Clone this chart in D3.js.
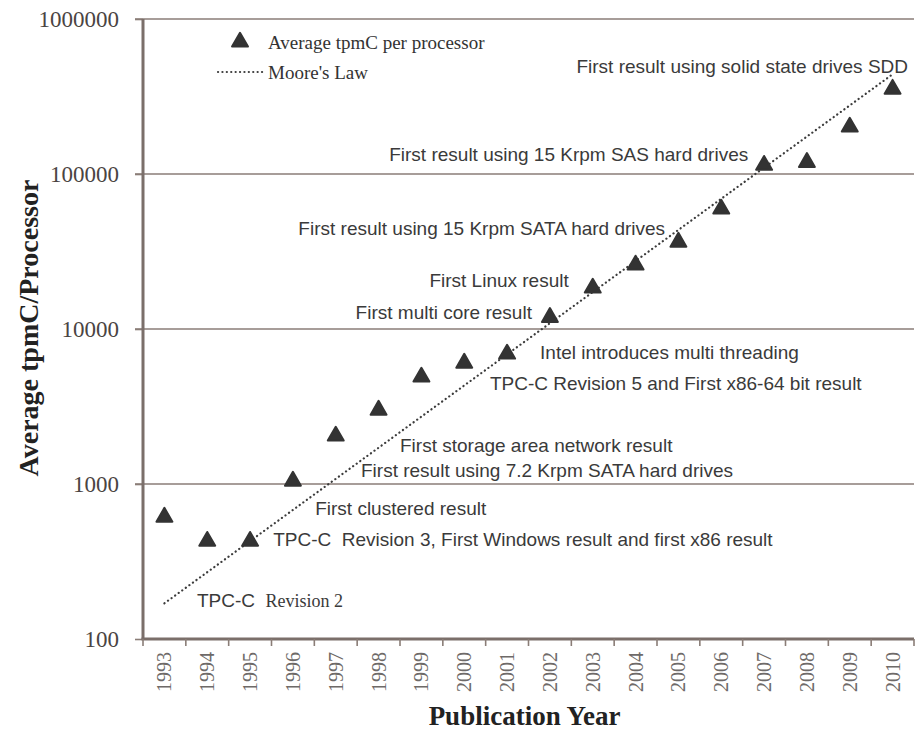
<!DOCTYPE html>
<html>
<head>
<meta charset="utf-8">
<script src="https://cdn.jsdelivr.net/npm/d3@7"></script>
<style>
  body { margin: 0; background: #fff; }
</style>
</head>
<body>
<svg id="chart" width="918" height="732"></svg>
<script>
// data
const years = ["1993", "1994", "1995", "1996", "1997", "1998", "1999", "2000", "2001",
  "2002", "2003", "2004", "2005", "2006", "2007", "2008", "2009", "2010"];
const tpmcPerProcessor = [612, 428, 428, 1045, 2040, 3000, 4900, 6030, 6900,
  11900, 18400, 25900, 36400, 59500, 114000, 119000, 201000, 353000];
const mooreYears = [1993, 2010];
const mooreValues = [170, 440000];
const yTicks = [100, 1000, 10000, 100000, 1000000];

// milestone notes (year / value where the text sits)
const noteText = [
  "First result using solid state drives SDD",
  "First result using 15 Krpm SAS hard drives",
  "First result using 15 Krpm SATA hard drives",
  "First Linux result",
  "First multi core result",
  "Intel introduces multi threading",
  "TPC-C Revision 5 and First x86-64 bit result",
  "First storage area network result",
  "First result using 7.2 Krpm SATA hard drives",
  "First clustered result",
  "TPC-C  Revision 3, First Windows result and first x86 result"
];
const noteYear = [2010.36, 2006.63, 2004.69, 2002.44, 2001.58, 2001.77, 2000.6, 1998.5, 1997.59, 1996.52, 1995.54];
const noteValue = [498000, 133000, 44900, 20700, 12900, 7110, 4480, 1785, 1231, 700, 442];
const noteAnchor = ["end", "end", "end", "end", "end", "start", "start", "start", "start", "start", "start"];

const svg = d3.select("#chart");
const margin = { top: 19, right: 4, bottom: 93, left: 143 };
const width = +svg.attr("width") - margin.left - margin.right;
const height = +svg.attr("height") - margin.top - margin.bottom;

const serif = "'Liberation Serif', 'Times New Roman', serif";
const sans = "'Liberation Sans', Arial, sans-serif";
const gridColor = "#8a7d77";

const g = svg.append("g").attr("transform", `translate(${margin.left},${margin.top})`);

const x = d3.scaleBand().domain(years).range([0, width]).padding(0);
const xYear = d3.scaleLinear()
  .domain([+years[0], +years[years.length - 1]])
  .range([x(years[0]) + x.bandwidth() / 2, x(years[years.length - 1]) + x.bandwidth() / 2]);
const y = d3.scaleLog().domain([100, 1000000]).range([height, 0]);

// horizontal grid lines
g.selectAll(".grid")
  .data(yTicks.slice(1))
  .enter()
  .append("line")
  .attr("x1", -8)
  .attr("x2", width)
  .attr("y1", (d) => y(d))
  .attr("y2", (d) => y(d))
  .attr("stroke", gridColor)
  .attr("stroke-width", 1.6);

// y axis
const yAxis = d3.axisLeft(y).tickValues(yTicks).tickFormat(d3.format("d")).tickSize(8).tickPadding(16);
const gy = g.append("g").call(yAxis);
gy.select(".domain").remove();
gy.selectAll(".tick line").attr("stroke", gridColor).attr("stroke-width", 1.6);
gy.selectAll(".tick text")
  .attr("fill", "#4a4442")
  .style("font-family", serif)
  .style("font-size", "23px");
g.append("line")
  .attr("x1", 0).attr("x2", 0)
  .attr("y1", 0).attr("y2", height)
  .attr("stroke", "#7b6f6a")
  .attr("stroke-width", 3);

// x axis: ticks at band boundaries, labels rotated
g.append("line")
  .attr("x1", -1.5).attr("x2", width)
  .attr("y1", height).attr("y2", height)
  .attr("stroke", "#7b6f6a")
  .attr("stroke-width", 3);
g.selectAll(".xtick")
  .data(years.concat(["end"]))
  .enter()
  .append("line")
  .attr("x1", (d) => (d === "end" ? width : x(d)))
  .attr("x2", (d) => (d === "end" ? width : x(d)))
  .attr("y1", height)
  .attr("y2", height + 7)
  .attr("stroke", gridColor)
  .attr("stroke-width", 1.6);
g.selectAll(".xlabel")
  .data(years)
  .enter()
  .append("text")
  .attr("transform", (d) => `translate(${x(d) + x.bandwidth() / 2},${height + 13}) rotate(-90)`)
  .attr("dy", "0.35em")
  .attr("text-anchor", "end")
  .attr("fill", "#6e6a68")
  .style("font-family", serif)
  .style("font-size", "20px")
  .text((d) => d);

// axis titles
svg.append("text")
  .attr("x", margin.left + width / 2 - 4)
  .attr("y", 725)
  .attr("text-anchor", "middle")
  .attr("fill", "#222")
  .style("font-family", serif)
  .style("font-weight", "bold")
  .style("font-size", "27px")
  .text("Publication Year");
svg.append("text")
  .attr("transform", "translate(38,328) rotate(-90)")
  .attr("text-anchor", "middle")
  .attr("fill", "#222")
  .style("font-family", serif)
  .style("font-weight", "bold")
  .style("font-size", "28px")
  .text("Average tpmC/Processor");

// Moore's law trend
const mooreLine = d3.line()
  .x((d) => xYear(d[0]))
  .y((d) => y(d[1]));
g.append("path")
  .datum(mooreYears.map((yr, i) => [yr, mooreValues[i]]))
  .attr("d", mooreLine)
  .attr("fill", "none")
  .attr("stroke", "#3c3c3c")
  .attr("stroke-width", 2.2)
  .attr("stroke-linecap", "round")
  .attr("stroke-dasharray", "0.1,4.3");

// triangles
const tri = d3.symbol().type(d3.symbolTriangle).size(110);
g.selectAll(".pt")
  .data(years)
  .enter()
  .append("path")
  .attr("d", tri)
  .attr("transform", (d, i) => `translate(${x(d) + x.bandwidth() / 2},${y(tpmcPerProcessor[i])})`)
  .attr("fill", "#333")
  .attr("stroke", "#333")
  .attr("stroke-width", 2)
  .attr("stroke-linejoin", "round");

// milestone notes
g.selectAll(".note")
  .data(noteText)
  .enter()
  .append("text")
  .attr("x", (d, i) => xYear(noteYear[i]))
  .attr("y", (d, i) => y(noteValue[i]))
  .attr("dy", "0.35em")
  .attr("text-anchor", (d, i) => noteAnchor[i])
  .attr("fill", "#3a3a3a")
  .style("font-family", sans)
  .style("font-size", "19px")
  .style("white-space", "pre")
  .text((d) => d);

const rev2 = g.append("text")
  .attr("x", xYear(1993.76))
  .attr("y", y(176))
  .attr("dy", "0.35em")
  .attr("fill", "#3a3a3a")
  .style("white-space", "pre");
rev2.append("tspan").style("font-family", sans).style("font-size", "19px").text("TPC-C  ");
rev2.append("tspan").style("font-family", serif).style("font-size", "18px").text("Revision 2");

// legend
const legend = svg.append("g");
legend.append("path")
  .attr("d", tri)
  .attr("transform", "translate(240,42)")
  .attr("fill", "#333")
  .attr("stroke", "#333")
  .attr("stroke-width", 2)
  .attr("stroke-linejoin", "round");
legend.append("line")
  .attr("x1", 218).attr("x2", 263)
  .attr("y1", 72).attr("y2", 72)
  .attr("stroke", "#3c3c3c")
  .attr("stroke-width", 2.2)
  .attr("stroke-linecap", "round")
  .attr("stroke-dasharray", "0.1,4.3");
legend.selectAll("text")
  .data(["Average tpmC per processor", "Moore's Law"])
  .enter()
  .append("text")
  .attr("x", 268)
  .attr("y", (d, i) => 42 + i * 30)
  .attr("dy", "0.35em")
  .attr("fill", "#333")
  .style("font-family", serif)
  .style("font-size", "19px")
  .text((d) => d);
</script>
</body>
</html>
